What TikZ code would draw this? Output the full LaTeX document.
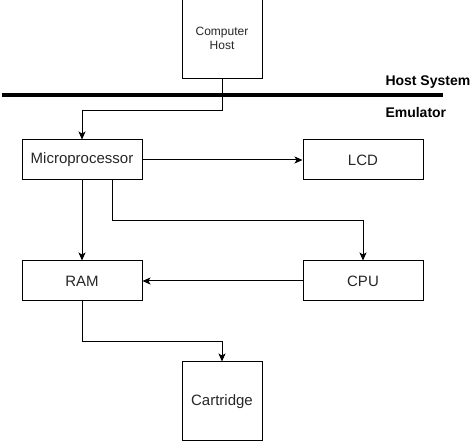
\documentclass[tikz,border=0pt]{standalone}
\usepackage{fontspec}
\setmainfont{Liberation Sans}
\usetikzlibrary{positioning,arrows.meta}
\tikzset{
	block/.style={draw, rectangle, line width=1pt, inner sep=0pt, minimum width=120pt, minimum height=40pt,
		text=black!85, font=\fontsize{15}{18}\selectfont},
	tallblock/.style={block, minimum width=80pt, minimum height=80pt},
	layer/.style={font=\fontsize{14}{17}\selectfont\bfseries, anchor=west, inner sep=0pt},
}

\begin{document}
\begin{tikzpicture}[x=1pt, y=-1pt, line width=1pt, >={Stealth[length=8pt,width=7pt,inset=2pt]},
							every text node part/.style={align=center}]
			\useasboundingbox (0,0) rectangle (475,441);
			\node[block] (mic) at (82,160) {Microprocessor};
			\node[block, right=160pt of mic] (lcd) {LCD};
			\node[block, below=80pt of mic] (ram) {RAM};
			\node[block, right=160pt of ram] (cpu) {CPU};
			\node[tallblock, minimum height=79pt, below=60pt of ram, xshift=140pt] (cart) {Cartridge};
			\node[tallblock, minimum height=81pt, above=60pt of mic, xshift=140pt, font=\fontsize{12}{14}\selectfont] (host) {Computer\\Host};
			
			% separator between host and emulator
			\coordinate (sepL) at (2,95);
			\coordinate (sepR) at (443,95);
			\draw[line width=4pt] (sepL) -- (sepR);
			\node[layer] (hostsys) at (385,82) {Host System};
			\node[layer] (emu) at (385,112) {Emulator};
			
			\draw[->] (host.south) -- ++(0,31) -| (mic.north);
			\draw[->] (mic) -- (lcd);
			\draw[->] (mic) -- (ram);
			\draw[->] ([xshift=30pt]mic.south) -- ++(0,40) -| (cpu.north);
			\draw[->] (cpu) -- (ram);
			\draw[->] (ram.south) -- ++(0,40) -| (cart.north);
		\end{tikzpicture}
\end{document}
